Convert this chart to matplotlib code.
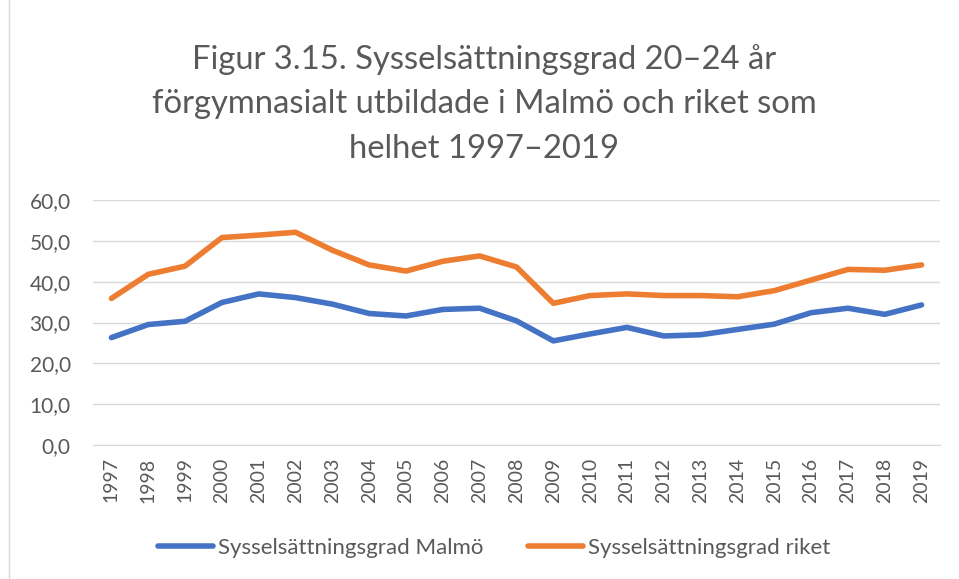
import matplotlib.pyplot as plt
from matplotlib.patches import Rectangle

years = [str(y) for y in range(1997, 2020)]
malmo = [26.3, 29.5, 30.3, 34.9, 37.0, 36.1, 34.5, 32.2, 31.6, 33.2, 33.5, 30.4,
         25.5, 27.2, 28.8, 26.7, 27.0, 28.3, 29.6, 32.4, 33.5, 32.0, 34.3]
riket = [35.9, 41.8, 43.8, 50.8, 51.4, 52.1, 47.7, 44.1, 42.6, 45.0, 46.3, 43.6,
         34.7, 36.6, 37.0, 36.6, 36.6, 36.3, 37.8, 40.4, 43.0, 42.8, 44.1]
yticks = [0, 10, 20, 30, 40, 50, 60]
title = "Figur 3.15. Sysselsättningsgrad 20–24 år\nförgymnasialt utbildade i Malmö och riket som\nhelhet 1997–2019"

plt.rcParams['font.family'] = ['Lato', 'DejaVu Sans']
grey = '#595959'

fig = plt.figure(figsize=(9.59, 5.79), dpi=100)
fig.patches.append(Rectangle((0.009, -0.01), 1.0, 1.02, transform=fig.transFigure,
                             fill=False, edgecolor='#d9d9d9', linewidth=1))
ax = fig.add_axes([93 / 959, 1 - 445 / 579, (940 - 93) / 959, 245 / 579])

x = range(len(years))
ax.plot(x, malmo, color='#4472c4', linewidth=4, solid_capstyle='round',
        label='Sysselsättningsgrad Malmö')
ax.plot(x, riket, color='#ed7d31', linewidth=4, solid_capstyle='round',
        label='Sysselsättningsgrad riket')

ax.set_xlim(-0.5, len(years) - 0.5)
ax.set_ylim(0, 60)
ax.set_yticks(yticks)
ax.set_yticklabels([f"{v:.1f}".replace('.', ',') for v in yticks])
ax.set_xticks(list(x))
ax.set_xticklabels(years, rotation=90)
ax.tick_params(axis='y', length=0, colors=grey, labelsize=15, pad=16)
ax.tick_params(axis='x', length=0, colors=grey, labelsize=14, pad=9)
ax.grid(axis='y', color='#d9d9d9', linewidth=1)
ax.set_axisbelow(True)
for s in ['top', 'right', 'left']:
    ax.spines[s].set_visible(False)
ax.spines['bottom'].set_color('#d9d9d9')

fig.text(0.505, 1 - 44 / 579, title, ha='center', va='top', fontsize=23.6, color=grey,
         linespacing=1.6)

fig.legend(loc='center', bbox_to_anchor=(0.515, 1 - 548 / 579), ncol=2, frameon=False,
           fontsize=16, labelcolor=grey, handlelength=2.5, handletextpad=0.2,
           columnspacing=2.0)

fig.savefig('out.png', dpi=100)
